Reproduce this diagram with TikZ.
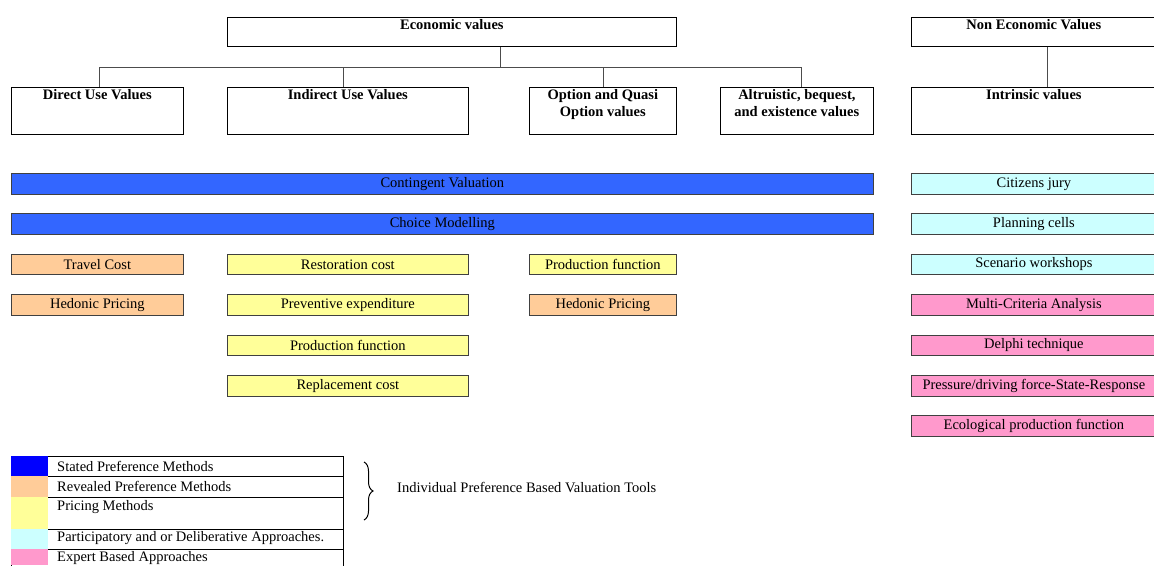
\documentclass[tikz,border=0pt]{standalone}
\usepackage{fontspec}
\setmainfont{Liberation Serif}
\usetikzlibrary{decorations.pathreplacing}
\definecolor{cvblue}{RGB}{51,102,255}
\definecolor{stblue}{RGB}{0,0,255}
\definecolor{rorange}{RGB}{255,204,153}
\definecolor{pyellow}{RGB}{255,255,153}
\definecolor{dcyan}{RGB}{204,255,255}
\definecolor{epink}{RGB}{255,153,204}
\newcommand\bx[7]{\node[#6, minimum width={#4-#2}, minimum height={#5-#3}, anchor=north west] (#1) at (#2,-#3) {#7};}
\tikzset{
  base/.style={draw=black, line width=0.7pt, rectangle, inner sep=0pt, font=\fontsize{14.5}{17}\selectfont},
  hdr/.style={base},
  bar/.style={base, draw=black!75},
  lrow/.style={draw=black, line width=0.6pt, rectangle, inner sep=0pt},
  conn/.style={draw=black!70, line width=0.8pt},
  htext/.style={anchor=north, inner sep=0pt, yshift=-2pt, font=\bfseries\fontsize{14.5}{17}\selectfont, align=center},
  ltext/.style={anchor=west, inner sep=0pt, font=\fontsize{14.5}{17}\selectfont}
}
\begin{document}
\begin{tikzpicture}[x=1pt,y=1pt]
\useasboundingbox (0,0) rectangle (1154,-565);
% headers
\bx{econ}{227}{17}{676}{46}{hdr, label={[htext]north:Economic values}}{}
\bx{nonecon}{911}{17}{1156}{46}{hdr, label={[htext]north:Non Economic Values}}{}
\bx{direct}{11}{87}{183}{134}{hdr, label={[htext]north:Direct Use Values}}{}
\bx{indirect}{227}{87}{468}{134}{hdr, label={[htext]north:Indirect Use Values}}{}
\bx{option}{529}{87}{676}{134}{hdr, label={[htext]north:Option and Quasi\\Option values}}{}
\bx{altru}{720}{87}{873}{134}{hdr, label={[htext]north:Altruistic, bequest,\\and existence values}}{}
\bx{intrinsic}{911}{87}{1156}{134}{hdr, label={[htext]north:Intrinsic values}}{}
% connectors
\coordinate (j) at (500,-67);
\coordinate (jd) at (99,-67);
\coordinate (ji) at (343,-67);
\coordinate (jo) at (603,-67);
\coordinate (ja) at (801,-67);
\coordinate (jn) at (1047,-67);
\draw[conn] (econ.south -| j) -- (j);
\draw[conn] (jd) -- (ja);
\draw[conn] (jd) -- (direct.north -| jd);
\draw[conn] (ji) -- (indirect.north -| ji);
\draw[conn] (jo) -- (option.north -| jo);
\draw[conn] (ja) -- (altru.north -| ja);
\draw[conn] (nonecon.south -| jn) -- (intrinsic.north -| jn);
% bars
\bx{cv}{11}{173}{873}{194}{bar, fill=cvblue}{Contingent Valuation}
\bx{cm}{11}{213}{873}{234}{bar, fill=cvblue}{Choice Modelling}
\bx{tc}{11}{254}{183}{274}{bar, fill=rorange}{Travel Cost}
\bx{hp1}{11}{294}{183}{315}{bar, fill=rorange}{Hedonic Pricing}
\bx{rc}{227}{254}{468}{274}{bar, fill=pyellow}{Restoration cost}
\bx{pe}{227}{294}{468}{315}{bar, fill=pyellow}{Preventive expenditure}
\bx{pf1}{227}{335}{468}{355}{bar, fill=pyellow}{Production function}
\bx{repc}{227}{375}{468}{396}{bar, fill=pyellow}{Replacement cost}
\bx{pf2}{529}{254}{676}{274}{bar, fill=pyellow}{Production function}
\bx{hp2}{529}{294}{676}{315}{bar, fill=rorange}{Hedonic Pricing}
\bx{cj}{911}{173}{1156}{194}{bar, fill=dcyan}{Citizens jury}
\bx{pc}{911}{213}{1156}{234}{bar, fill=dcyan}{Planning cells}
\bx{sw}{911}{254}{1156}{274}{bar, fill=dcyan}{Scenario workshops}
\bx{mca}{911}{294}{1156}{315}{bar, fill=epink}{Multi-Criteria Analysis}
\bx{dt}{911}{335}{1156}{355}{bar, fill=epink}{Delphi technique}
\bx{psr}{911}{375}{1156}{396}{bar, fill=epink}{Pressure/driving force-State-Response}
\bx{epf}{911}{415}{1156}{436}{bar, fill=epink}{Ecological production function}
% legend
\bx{l1}{11}{456}{343}{476}{lrow}{}
\bx{l2}{11}{476}{343}{497}{lrow}{}
\bx{l3}{11}{497}{343}{529}{lrow}{}
\bx{l4}{11}{529}{343}{549}{lrow}{}
\bx{l5}{11}{549}{343}{570}{lrow}{}
\fill[stblue] (11.4,-456.4) rectangle (48,-475.6);
\fill[rorange] (11.4,-476.4) rectangle (48,-496.6);
\fill[pyellow] (11.4,-497.4) rectangle (48,-528.6);
\fill[dcyan] (11.4,-529.4) rectangle (48,-548.6);
\fill[epink] (11.4,-549.4) rectangle (48,-565);
\node[ltext] (t1) at (57,-466) {Stated Preference Methods};
\node[ltext] (t2) at (57,-486) {Revealed Preference Methods};
\node[ltext] (t3) at (57,-507) {Pricing Methods};
\node[ltext] (t4) at (57,-538) {Participatory and or Deliberative Approaches.};
\node[ltext] (t5) at (57,-558) {Expert Based Approaches};
\coordinate (bt) at (364,-462);
\coordinate (bb) at (364,-520);
\draw[line width=1pt, decorate, decoration={brace, amplitude=9pt}] (bt) -- (bb);
\node[ltext] (ipb) at (397,-487) {Individual Preference Based Valuation Tools};
\end{tikzpicture}
\end{document}
